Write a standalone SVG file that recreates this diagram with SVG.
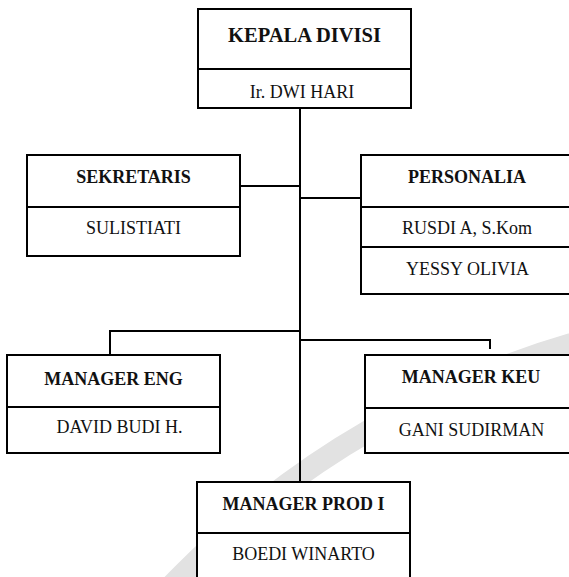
<svg xmlns="http://www.w3.org/2000/svg" width="569" height="577" viewBox="0 0 569 577">
<style>
.bx{fill:#fff;stroke:#000;stroke-width:2}
.ln{fill:none;stroke:#000;stroke-width:2}
.t{font-family:"Liberation Serif","Times New Roman",serif;font-size:18px;text-anchor:middle;fill:#111}
.b{font-weight:bold}
.wm{fill:none;stroke:#e2e2e2;stroke-width:22}
</style>
<rect width="569" height="577" fill="#fff"/>
<g id="watermark">
<circle class="wm" cx="825" cy="1216" r="908"/>
</g>
<g id="connectors">
<line class="ln" x1="300" y1="108" x2="300" y2="482"/>
<polyline class="ln" points="240,186 300,186"/>
<polyline class="ln" points="300,198 361,198"/>
<polyline class="ln" points="110,355 110,331 300,331"/>
<polyline class="ln" points="300,340 490,340 490,349"/>
</g>
<g id="kepala">
<rect class="bx" x="198" y="9" width="213" height="99"/>
<line class="ln" x1="198" y1="69" x2="411" y2="69"/>
<text class="t b" x="304.5" y="42" style="font-size:20.5px">KEPALA DIVISI</text>
<text class="t" x="302" y="98">Ir. DWI HARI</text>
</g>
<g id="sekretaris">
<rect class="bx" x="27" y="155" width="213" height="101"/>
<line class="ln" x1="27" y1="207" x2="240" y2="207"/>
<text class="t b" x="133.5" y="183">SEKRETARIS</text>
<text class="t" x="133.5" y="234">SULISTIATI</text>
</g>
<g id="personalia">
<rect class="bx" x="361" y="155" width="214" height="139"/>
<line class="ln" x1="361" y1="207" x2="575" y2="207"/>
<line class="ln" x1="361" y1="247" x2="575" y2="247"/>
<text class="t b" x="467" y="183">PERSONALIA</text>
<text class="t" x="467" y="234">RUSDI A, S.Kom</text>
<text class="t" x="467.5" y="275">YESSY OLIVIA</text>
</g>
<g id="manager-eng">
<rect class="bx" x="7" y="355" width="213" height="98"/>
<line class="ln" x1="7" y1="407" x2="220" y2="407"/>
<text class="t b" x="113.5" y="385">MANAGER ENG</text>
<text class="t" x="119.5" y="433">DAVID BUDI H.</text>
</g>
<g id="manager-keu">
<rect class="bx" x="365" y="355" width="214" height="98"/>
<line class="ln" x1="365" y1="408" x2="579" y2="408"/>
<text class="t b" x="471" y="383">MANAGER KEU</text>
<text class="t" x="471.5" y="436">GANI SUDIRMAN</text>
</g>
<g id="manager-prod">
<rect class="bx" x="197" y="482" width="213" height="110"/>
<line class="ln" x1="197" y1="533" x2="410" y2="533"/>
<text class="t b" x="303.5" y="510">MANAGER PROD I</text>
<text class="t" x="303.5" y="560">BOEDI WINARTO</text>
</g>
</svg>
